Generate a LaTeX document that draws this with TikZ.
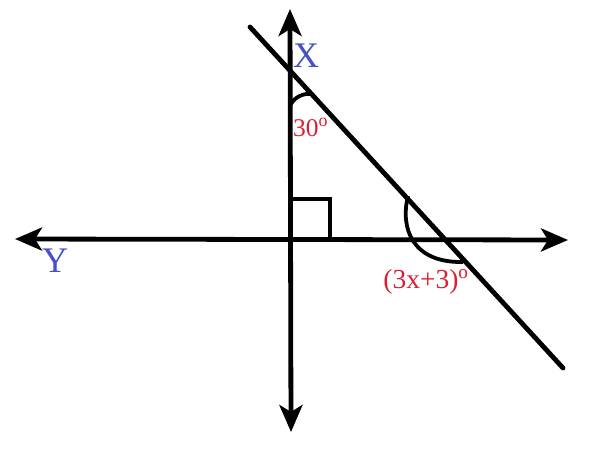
\documentclass[tikz,border=0pt]{standalone}
\usepackage{fontspec}
\setmainfont{Liberation Serif}
\usetikzlibrary{arrows.meta}
\definecolor{lblblue}{RGB}{70,80,200}
\definecolor{lblred}{RGB}{220,30,50}
\begin{document}
\begin{tikzpicture}[x=1pt,y=-1pt,
  ln/.style={line width=4.8pt},
  arr/.style={ln,{Stealth[length=27pt,width=23pt,inset=7pt]}-{Stealth[length=27pt,width=23pt,inset=7pt]}},
  bl/.style={text=lblblue,font=\fontsize{36}{40}\selectfont,inner sep=0pt,anchor=base},
  rl/.style={text=lblred,inner sep=0pt,anchor=base}]
\useasboundingbox (0,0) rectangle (600,450);
\coordinate (vt) at (290,9);
\coordinate (vb) at (291,432);
\coordinate (hl) at (15,239);
\coordinate (hr) at (568,240);
\coordinate (d1) at (250,27);
\coordinate (d2) at (563,368);
\draw[arr] (vt) -- (vb);
\draw[arr] (hl) -- (hr);
\draw[ln,line cap=round] (d1) -- (d2);
\coordinate (s1) at (290,199);
\coordinate (s2) at (330,199);
\coordinate (s3) at (330,240);
\draw[ln] (s1) -- (s2) -- (s3);
\coordinate (a1) at (291,104);
\coordinate (a2) at (312,94);
\draw[line width=3.8pt] (a1) .. controls (295,97) and (303,93) .. (a2);
\coordinate (b1) at (408,196);
\coordinate (b2) at (463,262);
\draw[line width=3.8pt] (b1) .. controls (400,228) and (412,263) .. (b2);
\node[bl] (X) at (306,67) {X};
\node[bl] (Y) at (55,272) {Y};
\node[rl,font=\fontsize{25.5}{28}\selectfont,anchor=base west] (t30) at (293,136) {30\textsuperscript{o}};
\node[rl,font=\fontsize{27.5}{30}\selectfont] (t3x) at (426,288) {(3x+3)\textsuperscript{o}};
\end{tikzpicture}
\end{document}
